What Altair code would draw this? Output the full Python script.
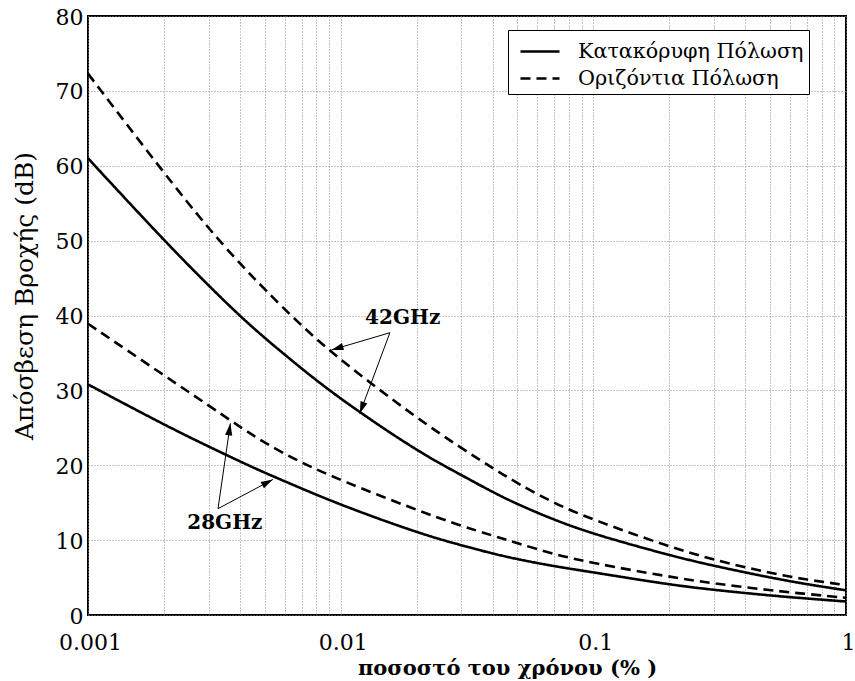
import math
import altair as alt
import pandas as pd

# ---------------- data ----------------
x_vals = [0.001, 0.002, 0.003, 0.004, 0.005, 0.007, 0.01, 0.02, 0.03, 0.04,
          0.05, 0.07, 0.1, 0.2, 0.3, 0.5, 0.7, 1.0]

att_42_h = [72.3, 59.0, 51.6, 46.9, 43.5, 38.6, 34.0, 26.3, 22.3, 19.6,
            17.6, 14.9, 12.7, 9.1, 7.35, 5.6, 4.7, 4.0]
att_42_v = [61.0, 50.0, 44.0, 39.9, 37.0, 32.9, 28.8, 21.9, 18.7, 16.4,
            14.8, 12.7, 10.8, 7.97, 6.55, 5.0, 4.1, 3.3]
att_28_h = [38.9, 32.0, 28.0, 25.1, 23.0, 20.3, 18.0, 14.0, 11.9, 10.6,
            9.6, 8.1, 6.9, 5.1, 4.2, 3.3, 2.8, 2.3]
att_28_v = [30.8, 25.4, 22.5, 20.5, 19.0, 16.9, 14.7, 11.0, 9.3, 8.2,
            7.45, 6.5, 5.7, 4.05, 3.35, 2.6, 2.2, 1.8]

pol_v = "Κατακόρυφη Πόλωση"
pol_h = "Οριζόντια Πόλωση"
pol_domain = [pol_v, pol_h]

series = [
    ("42GHz", pol_h, att_42_h),
    ("42GHz", pol_v, att_42_v),
    ("28GHz", pol_h, att_28_h),
    ("28GHz", pol_v, att_28_v),
]

# annotation labels and arrows (data coordinates)
label_text = ["42GHz", "28GHz"]
label_x = [0.0176, 0.00348]
label_y = [39.7, 12.3]

arrow_x0 = [0.01566, 0.01566, 0.00327, 0.00327]
arrow_y0 = [37.7, 37.7, 14.2, 14.2]
arrow_x1 = [0.0092, 0.0119, 0.00366, 0.00539]
arrow_y1 = [35.4, 26.9, 25.6, 18.1]

x_tick_values = [m * 10 ** e for e in (-3, -2, -1) for m in range(1, 10)] + [1.0]
y_tick_values = list(range(0, 81, 10))

# ---------------- build tables ----------------
rows = []
for freq, pol, ys in series:
    for xv, yv in zip(x_vals, ys):
        rows.append({"x": xv, "y": yv, "freq": freq, "pol": pol})
df = pd.DataFrame(rows)

W, H = 758, 599
X_MIN, X_MAX = 0.001, 1.0
Y_MIN, Y_MAX = 0, 80


def px(xv):
    return W * (math.log10(xv) - math.log10(X_MIN)) / (math.log10(X_MAX) - math.log10(X_MIN))


def py(yv):
    return H * (1 - (yv - Y_MIN) / (Y_MAX - Y_MIN))


arrows = []
for a, b, c, d in zip(arrow_x0, arrow_y0, arrow_x1, arrow_y1):
    dx = px(c) - px(a)
    dy = py(d) - py(b)
    ang = math.degrees(math.atan2(dx, -dy)) % 360
    arrows.append({"x0": a, "y0": b, "x1": c, "y1": d, "angle": ang})
arr_df = pd.DataFrame(arrows)
lab_df = pd.DataFrame({"text": label_text, "x": label_x, "y": label_y})

xscale = alt.Scale(type="log", domain=[X_MIN, X_MAX], nice=False)
yscale = alt.Scale(domain=[Y_MIN, Y_MAX], nice=False)

FONT = "DejaVu Serif"

x_axis = alt.Axis(
    values=x_tick_values,
    format="~g",
    labelExpr="indexof([0.001, 0.01, 0.1, 1], datum.value) >= 0 ? datum.label : ''",
    grid=True, gridDash=[1, 2], gridColor="#8a8a8a", gridWidth=1,
    ticks=False, domain=False,
    labelFont=FONT, labelFontSize=22, labelColor="black",
    labelFlush=False, labelOverlap=False, labelPadding=17, labelOffset=2,
    title="ποσοστό του χρόνου (% )",
    titleFont=FONT, titleFontSize=21, titleFontWeight="bold", titleColor="black",
    titleX=419, titleY=59, titleBaseline="alphabetic", titleAnchor="middle",
)
y_axis = alt.Axis(
    values=y_tick_values,
    grid=True, gridDash=[1, 2], gridColor="#8a8a8a", gridWidth=1,
    ticks=False, domain=False,
    labelFont=FONT, labelFontSize=22, labelColor="black",
    labelFlush=False, labelOverlap=False, labelPadding=5, labelOffset=1,
    title="Απόσβεση Βροχής (dB)",
    titleFont=FONT, titleFontSize=25, titleFontWeight="normal", titleColor="black",
    titleX=-64, titleY=279.5, titleAngle=-90, titleAlign="center", titleBaseline="middle",
)

lines = alt.Chart(df).mark_line(strokeWidth=2.6, color="black", interpolate="basis").encode(
    x=alt.X("x:Q", scale=xscale, axis=x_axis),
    y=alt.Y("y:Q", scale=yscale, axis=y_axis),
    strokeDash=alt.StrokeDash(
        "pol:N",
        scale=alt.Scale(domain=pol_domain, range=[[1, 0], [10, 6]]),
        legend=alt.Legend(
            title=None, orient="none", legendX=420, legendY=14,
            symbolType="M-0.6,0L2,0", symbolSize=900, symbolStrokeWidth=2.6,
            symbolStrokeColor="black",
            labelFont=FONT, labelFontSize=20.7, labelColor="black", labelOffset=32,
            labelLimit=0,
            strokeColor="black", fillColor="white", padding=5, rowPadding=0,
            cornerRadius=0,
        ),
    ),
    detail="freq:N",
)

rules = alt.Chart(arr_df).mark_rule(color="black", strokeWidth=1).encode(
    x=alt.X("x0:Q", scale=xscale),
    y=alt.Y("y0:Q", scale=yscale),
    x2="x1:Q",
    y2="y1:Q",
)

heads = alt.Chart(arr_df).mark_point(
    filled=True, shape="M0,0L-0.3,1L0.3,1Z", size=576, color="black", opacity=1, strokeWidth=0
).encode(
    x=alt.X("x1:Q", scale=xscale),
    y=alt.Y("y1:Q", scale=yscale),
    angle=alt.Angle("angle:Q", scale=None),
)

labels = alt.Chart(lab_df).mark_text(
    font=FONT, fontSize=20, fontWeight="bold", color="black", align="center", baseline="middle"
).encode(
    x=alt.X("x:Q", scale=xscale),
    y=alt.Y("y:Q", scale=yscale),
    text="text:N",
)

chart = alt.layer(lines, rules, heads, labels).properties(
    width=W, height=H,
    autosize=alt.AutoSizeParams(type="none"),
    padding={"left": 88, "top": 16, "right": 9, "bottom": 66},
    background="white",
).configure_view(stroke="black", strokeWidth=2)

chart.save("out.html", embed_options={"renderer": "svg", "actions": False})
